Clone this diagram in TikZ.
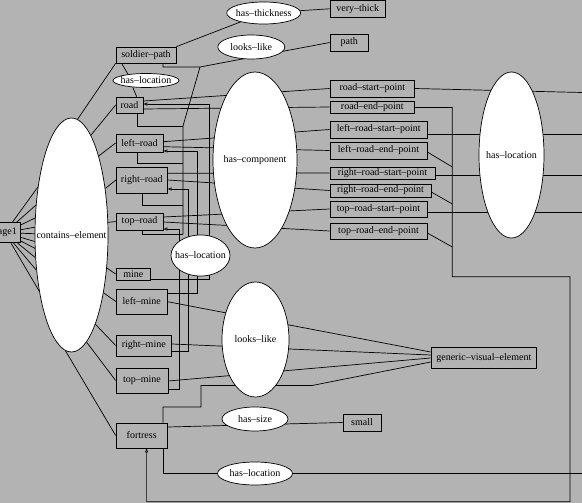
\documentclass[tikz,border=0pt]{standalone}
\usepackage{fontspec}
\setmainfont{Liberation Serif}
\usetikzlibrary{shapes.geometric,arrows.meta}
\pgfdeclarelayer{bglayer}
\pgfdeclarelayer{edgelayer}
\pgfsetlayers{bglayer,edgelayer,main}
\definecolor{bgc}{RGB}{179,179,179}
\begin{document}
\begin{tikzpicture}[x=1pt,y=-1pt,
  every node/.style={font=\fontsize{10}{12}\selectfont},
  box/.style={draw,rectangle,inner sep=0pt,line width=0.7pt},
  rel/.style={draw,ellipse,fill=white,inner sep=0pt,line width=0.7pt},
  edge/.style={line width=0.7pt},
  tip/.style={-{Triangle[length=4pt,width=3pt,fill=white]}}
]
\useasboundingbox (0,0) rectangle (582,503);
\begin{pgfonlayer}{bglayer}
  \fill[bgc] (0,0) rectangle (582,503);
\end{pgfonlayer}

% ---------- boxes ----------
\node[box,minimum width=31.7pt,minimum height=20pt] (page) at (4.85,232.7) {page1};
\node[box,minimum width=60pt,minimum height=16pt] (sp) at (146,55) {soldier–path};
\node[box,minimum width=27pt,minimum height=16pt] (road) at (129.5,105) {road};
\node[box,minimum width=47pt,minimum height=18pt] (lr) at (139.5,143) {left–road};
\node[box,minimum width=51pt,minimum height=26pt] (rr) at (141.8,180) {right–road};
\node[box,minimum width=47pt,minimum height=17pt] (tr) at (139.5,221.5) {top–road};
\node[box,minimum width=34.7pt,minimum height=12pt] (mine) at (133.3,274) {mine};
\node[box,minimum width=51pt,minimum height=25pt] (lm) at (141.7,301.5) {left–mine};
\node[box,minimum width=55.5pt,minimum height=21pt] (rm) at (143.8,345.5) {right–mine};
\node[box,minimum width=52pt,minimum height=25pt] (tm) at (142,380.5) {top–mine};
\node[box,minimum width=51.4pt,minimum height=25pt] (fort) at (141.7,435.5) {fortress};
\node[box,minimum width=38pt,minimum height=17pt] (small) at (362,422.5) {small};
\node[box,minimum width=105.7pt,minimum height=21pt] (gve) at (483.8,357.8) {generic–visual–element};
\node[box,minimum width=55.7pt,minimum height=16.3pt] (vt) at (357.8,8.8) {very–thick};
\node[box,minimum width=38.7pt,minimum height=17pt] (path) at (349.3,42.5) {path};
\node[box,minimum width=84.7pt,minimum height=17pt] (rsp) at (372.3,88.5) {road–start–point};
\node[box,minimum width=84.7pt,minimum height=12pt] (rep) at (372.3,107) {road–end–point};
\node[box,minimum width=97.7pt,minimum height=17pt] (lrsp) at (378.8,129.5) {left–road–start–point};
\node[box,minimum width=97pt,minimum height=17pt] (lrep) at (378.5,150.5) {left–road–end–point};
\node[box,minimum width=105pt,minimum height=12pt] (rrsp) at (382.5,173) {right–road–start–point};
\node[box,minimum width=101pt,minimum height=13pt] (rrep) at (380.5,190.5) {right–road–end–point};
\node[box,minimum width=97pt,minimum height=16pt] (trsp) at (378.5,209) {top–road–start–point};
\node[box,minimum width=97pt,minimum height=16pt] (trep) at (378.5,231) {top–road–end–point};

% ---------- relation ellipses ----------
\node[rel,minimum width=73pt,minimum height=234pt,label=center:{contains–element}] (ce) at (71.5,235) {};
\node[rel,minimum width=84pt,minimum height=176pt,label=center:{has–component}] (hc) at (255,160) {};
\node[rel,minimum width=65pt,minimum height=166pt,label=center:{has–location}] (hlr) at (511.5,155) {};
\node[rel,minimum width=59pt,minimum height=41pt,label=center:{has–location}] (hlm) at (200.5,255.5) {};
\node[rel,minimum width=67pt,minimum height=115pt,label=center:{looks–like}] (llb) at (255.5,339.5) {};
\node[rel,minimum width=74pt,minimum height=22pt,label=center:{has–thickness}] (ht) at (263.7,13) {};
\node[rel,minimum width=67pt,minimum height=24pt,label=center:{looks–like}] (lls) at (251.3,47) {};
\node[rel,minimum width=66pt,minimum height=14pt,label=center:{has–location}] (hls) at (146,80.5) {};
\node[rel,minimum width=66pt,minimum height=24pt,label=center:{has–size}] (hs) at (255,419) {};
\node[rel,minimum width=75pt,minimum height=23pt,label=center:{has–location}] (hlb) at (255,473.5) {};

% ---------- helper coordinates ----------
\coordinate (J) at (200,67);
\coordinate (K) at (183,126);
\coordinate (b1) at (183,163);
\coordinate (b2) at (183,205);
\coordinate (b3) at (183,234);
\coordinate (o1) at (582,92.5);
\coordinate (o2) at (582,134);
\coordinate (o3) at (582,175.5);
\coordinate (o4) at (582,212.5);
\coordinate (o5) at (582,473.5);
\coordinate (e0) at (452.3,107);
\coordinate (e1) at (452.3,167);
\coordinate (e2) at (452.3,204);
\coordinate (e3) at (452.3,247);
\coordinate (e4) at (452.3,276.7);
\coordinate (e5) at (570,276.7);
\coordinate (e6) at (570,501.7);
\coordinate (e7) at (146.6,501.7);
\coordinate (h1) at (209.3,104);
\coordinate (h2) at (197,151);
\coordinate (h3) at (188.5,189);
\coordinate (h4) at (179.3,229);
\coordinate (f1) at (201,407);
\coordinate (f2) at (312,385.5);

\begin{pgfonlayer}{edgelayer}
% page1 -> contains-element
\foreach \a in {125,140,155,168,178,190,200,212,225,240}
  \draw[edge] (page) -- (ce.\a);
% contains-element -> elements
\draw[edge] (ce.87) -- (sp.south west);
\draw[edge] (ce.79) -- (road.west);
\draw[edge] (ce.71) -- (lr.west);
\draw[edge] (ce.54) -- (rr.west);
\draw[edge] (ce.19) -- (tr.west);
\draw[edge] (ce.-43) -- (mine.west);
\draw[edge] (ce.-61) -- (lm.west);
\draw[edge] (ce.-75) -- (rm.west);
\draw[edge] (ce.-82) -- (tm.west);
\draw[edge] (ce.-93) -- (fort.west);
% soldier-path has-thickness very-thick
\draw[edge] (sp.north east) -- (ht);
\draw[edge] (ht) -- (vt.west);
% soldier-path has-location road
\draw[edge] ([xshift=6pt]sp.south west) -- (hls.161);
\draw[edge] (hls.207) -- ([xshift=21pt]road.north west);
% looks-like path bus
\draw[edge] ([xshift=17pt]sp.south) |- (J) -- (path.west);
\draw[edge] ([xshift=7.5pt]road.south) |- (K);
\draw[edge] ([xshift=-2.5pt]lr.south) |- (b1);
\draw[edge] ([xshift=0.9pt]rr.south) |- (b2);
\draw[edge] ([xshift=3.2pt]tr.south) |- (b3);
\draw[edge] (b3) -- (K) -- (J);
% has-component
\draw[edge] ([yshift=4pt]road.east) -- (rsp.west);
\draw[edge] ([yshift=-4pt]road.east) -- (rep.west);
\draw[edge] ([yshift=1.3pt]lr.east) -- (lrsp.west);
\draw[edge] ([yshift=-3.7pt]lr.east) -- (lrep.west);
\draw[edge] ([yshift=6.7pt]rr.east) -- (rrsp.west);
\draw[edge] (rr.east) -- (rrep.west);
\draw[edge] ([yshift=4.5pt]tr.east) -- (trsp.west);
\draw[edge] ([yshift=-0.5pt]tr.east) -- (trep.west);
% start points -> has-location -> off
\draw[edge] (rsp.east) -- (o1);
\draw[edge] ([yshift=-4.5pt]lrsp.east) -- (o2);
\draw[edge] ([yshift=-2.5pt]rrsp.east) -- (o3);
\draw[edge] ([yshift=-3.5pt]trsp.east) -- (o4);
% end points bus -> fortress
\draw[edge] (rep.east) -- (e0);
\draw[edge] ([yshift=-1.5pt]lrep.east) -- (e1);
\draw[edge] ([yshift=-1.5pt]rrep.east) -- (e2);
\draw[edge] ([yshift=-2pt]trep.east) -- (e3);
\draw[edge,tip] (e0) -- (e4) -- (e5) -- (e6) -- (e7) -- ([xshift=4.9pt]fort.south);
% mines has-location roads
\draw[edge,tip] ([yshift=-5.3pt]mine.east) -| (h1) -- ([yshift=1pt]road.east);
\draw[edge,tip] ([yshift=8.5pt]lm.east) -| (h2) -- ([yshift=-8pt]lr.east);
\draw[edge,tip] ([yshift=-6.2pt]rm.east) -| (h3) -- ([yshift=-9pt]rr.east);
\draw[edge,tip] ([yshift=-8.8pt]tm.east) -| (h4) -- ([yshift=-7.5pt]tr.east);
% looks-like generic-visual-element
\draw[edge] ([yshift=-0.2pt]lm.east) -- ([yshift=5.8pt]gve.west);
\draw[edge] ([yshift=1.5pt]rm.east) -- ([yshift=2.8pt]gve.west);
\draw[edge] ([yshift=-0.5pt]tm.east) -- ([yshift=-0.2pt]gve.west);
\draw[edge] ([xshift=21.3pt]fort.north) |- (f1) |- (f2) -- ([yshift=-4.2pt]gve.west);
% fortress has-size small
\draw[edge] ([yshift=8.5pt]fort.east) -- (small.west);
% fortress has-location off
\draw[edge] ([xshift=21.3pt]fort.south) |- (o5);
\end{pgfonlayer}
\end{tikzpicture}
\end{document}
